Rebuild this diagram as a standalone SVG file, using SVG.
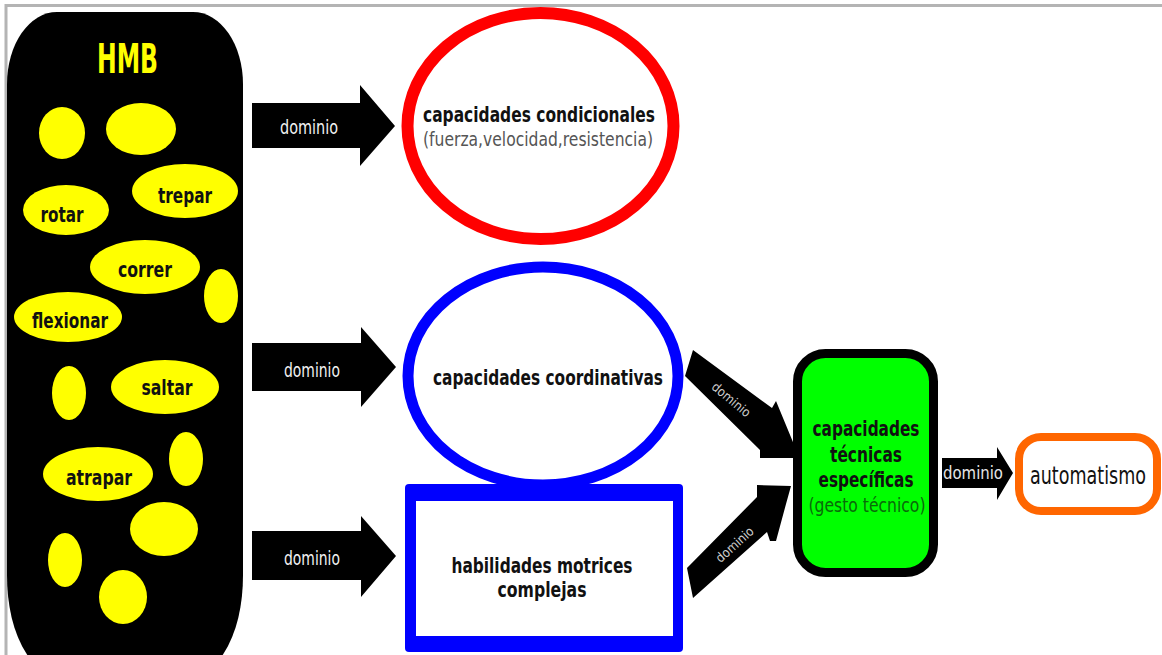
<svg xmlns="http://www.w3.org/2000/svg" width="1162" height="655" viewBox="0 0 1162 655">
<style>
.t{font-family:"DejaVu Sans","Liberation Sans",Arial,sans-serif;font-stretch:condensed;text-anchor:middle}
.y{fill:#ffff00}
.lbl{font-size:21px;fill:#111;font-weight:bold}
.dom{font-size:19px;fill:#f2f2f2}
.arr{fill:#000}
</style>
<rect width="1162" height="655" fill="#fff"/>
<path d="M6,655 V5.5 H1162" fill="none" stroke="#b4b4b4" stroke-width="3"/>

<g id="hmb">
<path d="M7,84 A50,72 0 0 1 57,12 H193 A50,72 0 0 1 243,84 V575 C243,640 215,700 125,700 C35,700 7,640 7,575 Z" fill="#000"/>
<text class="t y" x="127.5" y="73" font-size="40" font-weight="bold" textLength="61" lengthAdjust="spacingAndGlyphs">HMB</text>
<ellipse class="y" cx="62" cy="133" rx="23" ry="26"/>
<ellipse class="y" cx="141" cy="129" rx="35" ry="26"/>
<g id="trepar"><ellipse class="y" cx="185" cy="191" rx="53" ry="27"/><text class="t lbl" x="185" y="203" font-size="20" textLength="54" lengthAdjust="spacingAndGlyphs">trepar</text></g>
<g id="rotar"><ellipse class="y" cx="66" cy="210" rx="43" ry="25"/><text class="t lbl" x="62" y="222" textLength="43" lengthAdjust="spacingAndGlyphs">rotar</text></g>
<g id="correr"><ellipse class="y" cx="145" cy="267" rx="55" ry="27"/><text class="t lbl" x="145" y="277" textLength="54" lengthAdjust="spacingAndGlyphs">correr</text></g>
<ellipse class="y" cx="221" cy="296" rx="17" ry="27"/>
<g id="flexionar"><ellipse class="y" cx="68" cy="317" rx="54" ry="25"/><text class="t lbl" x="70" y="328" textLength="76" lengthAdjust="spacingAndGlyphs">flexionar</text></g>
<ellipse class="y" cx="69" cy="393" rx="17" ry="27"/>
<g id="saltar"><ellipse class="y" cx="165" cy="387" rx="54" ry="27"/><text class="t lbl" x="167" y="395" textLength="51" lengthAdjust="spacingAndGlyphs">saltar</text></g>
<ellipse class="y" cx="186" cy="459" rx="17" ry="27"/>
<g id="atrapar"><ellipse class="y" cx="98" cy="474" rx="55" ry="27"/><text class="t lbl" x="99" y="485" textLength="66" lengthAdjust="spacingAndGlyphs">atrapar</text></g>
<ellipse class="y" cx="164" cy="529" rx="34" ry="27"/>
<ellipse class="y" cx="65" cy="560" rx="17" ry="27"/>
<ellipse class="y" cx="123" cy="597" rx="24" ry="27"/>
</g>

<g id="condicionales">
<ellipse cx="540.5" cy="126" rx="133" ry="113" fill="#fff" stroke="#ff0000" stroke-width="12"/>
<text class="t lbl" x="539" y="122" textLength="232" lengthAdjust="spacingAndGlyphs">capacidades condicionales</text>
<text class="t" x="538" y="146" font-size="20" fill="#555" textLength="230" lengthAdjust="spacingAndGlyphs">(fuerza,velocidad,resistencia)</text>
</g>

<g id="habilidades">
<rect x="405" y="484" width="278" height="168" rx="4" fill="#0000ff"/>
<rect x="416" y="501" width="257" height="135" fill="#fff"/>
<text class="t lbl" x="542" y="573" textLength="181" lengthAdjust="spacingAndGlyphs">habilidades motrices</text>
<text class="t lbl" x="542" y="597" textLength="89" lengthAdjust="spacingAndGlyphs">complejas</text>
</g>

<g id="coordinativas">
<ellipse cx="543" cy="376" rx="135" ry="109" fill="#fff" stroke="#0000ff" stroke-width="11"/>
<text class="t lbl" x="548" y="385" textLength="230" lengthAdjust="spacingAndGlyphs">capacidades coordinativas</text>
</g>

<g id="tecnicas">
<rect x="797.5" y="353.5" width="136" height="219" rx="28" fill="#00ff00" stroke="#000" stroke-width="9"/>
<text class="t lbl" x="866" y="436" textLength="107" lengthAdjust="spacingAndGlyphs">capacidades</text>
<text class="t lbl" x="866" y="462" textLength="72" lengthAdjust="spacingAndGlyphs">técnicas</text>
<text class="t lbl" x="866" y="487" textLength="95" lengthAdjust="spacingAndGlyphs">específicas</text>
<text class="t" x="867" y="512" font-size="20" fill="#0a6a0a" textLength="117" lengthAdjust="spacingAndGlyphs">(gesto técnico)</text>
</g>

<g id="automatismo">
<rect x="1019" y="437" width="138" height="74" rx="22" fill="#fff" stroke="#ff6600" stroke-width="8"/>
<text class="t" transform="translate(1088,484) scale(1,1.2)" x="0" y="0" font-size="21" fill="#111" textLength="116" lengthAdjust="spacingAndGlyphs">automatismo</text>
</g>

<g id="connectors">
<polygon class="arr" points="252,103 360,103 360,85 395,126 360,166 360,148 252,148"/>
<text class="t dom" x="309" y="134" textLength="58" lengthAdjust="spacingAndGlyphs">dominio</text>
<polygon class="arr" points="252,343 361,343 361,327 396,367 361,407 361,391 252,391"/>
<text class="t dom" x="312" y="377" textLength="56" lengthAdjust="spacingAndGlyphs">dominio</text>
<polygon class="arr" points="252,531 361,531 361,516 396,556 361,597 361,580 252,580"/>
<text class="t dom" x="312" y="565" textLength="56" lengthAdjust="spacingAndGlyphs">dominio</text>
<polygon class="arr" points="693,350 772,408 776,401 795,447 793,458 760,458 760,450 685,376"/>
<text class="t" x="731" y="404" font-size="13" fill="#ccc" transform="rotate(40 731 400)" textLength="46" lengthAdjust="spacingAndGlyphs">dominio</text>
<polygon class="arr" points="687,568 757,497 757,485 791,486 786,504 776,541 770,541 767,532 693,598"/>
<text class="t" x="735" y="549" font-size="13" fill="#ccc" transform="rotate(-42 735 545)" textLength="46" lengthAdjust="spacingAndGlyphs">dominio</text>
<polygon class="arr" points="942,458 997,458 997,447 1013,473 997,500 997,488 942,488"/>
<text class="t" x="973" y="479" font-size="18" fill="#e6e6e6" textLength="60" lengthAdjust="spacingAndGlyphs">dominio</text>
</g>
</svg>
